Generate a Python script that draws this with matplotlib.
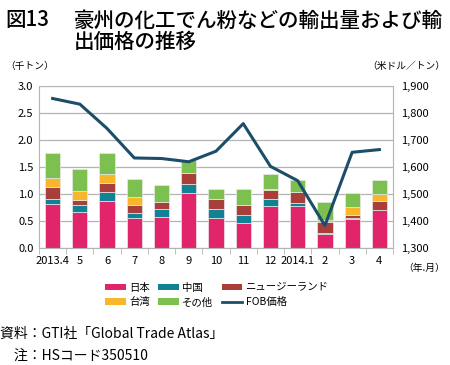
import numpy as np
import matplotlib.pyplot as plt
from matplotlib.patches import Patch
from matplotlib.lines import Line2D

plt.rcParams['font.family'] = ['Noto Sans CJK JP', 'DejaVu Sans']

months = ['2013.4', '5', '6', '7', '8', '9', '10', '11', '12', '2014.1', '2', '3', '4']
japan = [0.82, 0.67, 0.87, 0.55, 0.58, 1.01, 0.56, 0.47, 0.77, 0.77, 0.25, 0.53, 0.70]
china = [0.09, 0.12, 0.17, 0.09, 0.14, 0.18, 0.16, 0.14, 0.14, 0.06, 0.02, 0.02, 0.00]
nz = [0.21, 0.10, 0.17, 0.16, 0.13, 0.20, 0.19, 0.19, 0.16, 0.21, 0.21, 0.06, 0.17]
taiwan = [0.17, 0.16, 0.15, 0.15, 0.00, 0.00, 0.00, 0.00, 0.02, 0.00, 0.03, 0.14, 0.12]
other = [0.47, 0.41, 0.40, 0.33, 0.32, 0.23, 0.18, 0.30, 0.27, 0.22, 0.35, 0.27, 0.27]
fob = [1853, 1832, 1742, 1633, 1631, 1619, 1658, 1760, 1602, 1549, 1383, 1654, 1664]

series = [('日本', japan, '#e0256b'), ('中国', china, '#0f8296'),
          ('ニュージーランド', nz, '#a83f3b'), ('台湾', taiwan, '#f8b62a'),
          ('その他', other, '#7cc04f')]
line_color = '#1c4e69'
grid_color = '#b4b4b4'

fig = plt.figure(figsize=(4.5, 3.65), dpi=100)
ax = fig.add_axes([0.0867, 0.3205, 0.7866, 0.4445])
x = np.arange(len(months))
bottom = np.zeros(len(months))
for name, vals, col in series:
    ax.bar(x, vals, 0.56, bottom=bottom, color=col, edgecolor='#e8e8e8', linewidth=0.5, zorder=2)
    bottom += np.array(vals)

ax.set_xlim(-0.5, 12.5)
ax.set_ylim(0, 3.0)
ax.set_yticks(np.arange(0, 3.01, 0.5))
ax.set_yticklabels([f'{v:.1f}' for v in np.arange(0, 3.01, 0.5)], fontsize=8)
ax.yaxis.grid(True, color=grid_color, linewidth=0.9, zorder=0)
ax.set_axisbelow(True)
ax.set_xticks(x)
ax.set_xticklabels(months, fontsize=8)
ax.set_xticks(np.arange(-0.5, 12.6, 1), minor=True)
ax.tick_params(axis='x', which='major', length=0, pad=6)
ax.tick_params(axis='x', which='minor', length=4, color=grid_color)
ax.tick_params(axis='y', length=0, pad=4)
for s in ['left', 'right', 'bottom']:
    ax.spines[s].set_color(grid_color)
ax.spines['top'].set_visible(False)

ax2 = ax.twinx()
ax2.plot(x, fob, color=line_color, linewidth=2.2, zorder=3)
ax2.set_ylim(1300, 1900)
ax2.set_yticks(range(1300, 1901, 100))
ax2.set_yticklabels([f'{v:,}' for v in range(1300, 1901, 100)], fontsize=8)
ax2.tick_params(axis='y', length=0, pad=6)
for s in ax2.spines.values():
    s.set_visible(False)

fig.text(0.012, 0.928, '図13', fontsize=14.8, weight='medium')
fig.text(0.165, 0.928, '豪州の化工でん粉などの輸出量および輸', fontsize=14.8, weight='medium')
fig.text(0.165, 0.868, '出価格の推移', fontsize=14.8, weight='medium')
fig.text(0.012, 0.81, '（千トン）', fontsize=7)
fig.text(0.99, 0.81, '（米ドル／トン）', fontsize=7, ha='right')
fig.text(0.99, 0.258, '（年.月）', fontsize=7, ha='right')

handles = [Patch(facecolor=c, edgecolor='none', label=n) for n, v, c in series]
handles.append(Line2D([0], [0], color=line_color, linewidth=2, label='FOB価格'))
order = [0, 3, 1, 4, 2, 5]
fig.legend(handles=[handles[i] for i in order], ncol=3, loc='upper left',
           bbox_to_anchor=(0.222, 0.24), frameon=False, fontsize=7.5,
           handlelength=2.0, handleheight=0.6, handletextpad=0.3,
           columnspacing=0.8, labelspacing=0.45, borderpad=0)

fig.text(0.0, 0.075, '資料：GTI社「Global Trade Atlas」', fontsize=10)
fig.text(0.0, 0.015, '　注：HSコード350510', fontsize=10)

fig.savefig('out.png', dpi=100)
